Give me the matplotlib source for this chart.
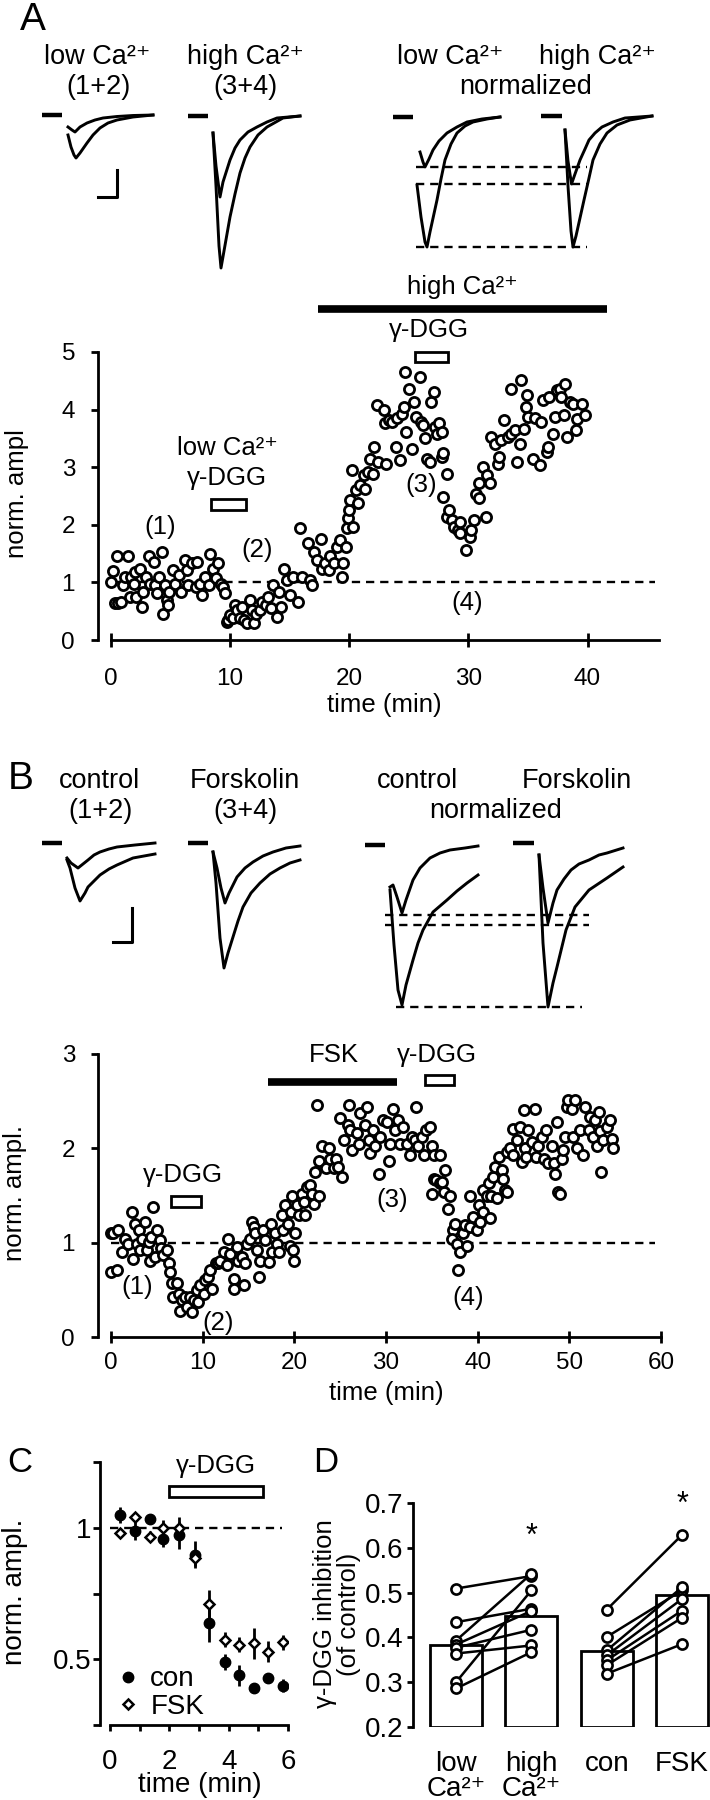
import matplotlib
matplotlib.use("Agg")
import matplotlib.pyplot as plt
from matplotlib.lines import Line2D
import numpy as np

plt.rcParams['font.family'] = ['Liberation Sans', 'DejaVu Sans']

# ---------------- data ----------------
# panel A time course (min, normalized amplitude)
a_time = [0.0, 0.2, 0.3, 0.5, 0.6, 0.8, 1.0, 1.2, 1.4, 1.6,
          1.7, 1.9, 2.0, 2.1, 2.4, 2.6, 2.7, 2.9, 3.2, 3.3,
          3.6, 3.7, 3.9, 4.0, 4.3, 4.4, 4.5, 4.7, 4.8, 4.9,
          5.2, 5.4, 5.7, 5.9, 6.2, 6.4, 6.5, 6.8, 7.1, 7.2,
          7.5, 7.6, 7.9, 8.2, 8.3, 8.6, 8.8, 9.0, 9.2, 9.4,
          9.6, 9.7, 9.8, 10.0, 10.2, 10.4, 10.6, 10.8, 11.0, 11.2,
          11.4, 11.7, 11.8, 12.0, 12.2, 12.5, 12.7, 13.0, 13.2, 13.4,
          13.6, 13.9, 14.1, 14.3, 14.5, 14.8, 15.0, 15.3, 15.7, 15.9,
          16.0, 16.5, 16.7, 16.9, 17.0, 17.3, 17.6, 17.7, 18.0, 18.3,
          18.4, 18.7, 19.0, 19.2, 19.4, 19.5, 19.7, 19.8, 19.9, 20.0,
          20.1, 20.2,
          20.3, 20.6, 20.7, 20.9, 21.2, 21.3, 21.6, 21.7, 22.0, 22.1,
          22.3, 22.4, 22.9, 23.0, 23.1, 23.3, 23.6, 23.9, 24.0, 24.3,
          24.4, 24.6, 24.7, 24.8, 25.0, 25.3, 25.4, 25.6, 25.9, 26.0,
          26.2, 26.4, 26.5, 26.8, 26.9, 27.1, 27.2, 27.4, 27.5, 27.8,
          27.8, 27.9, 27.9, 28.2, 28.2, 28.4, 28.6, 28.8, 29.1, 29.3,
          29.3, 29.8, 30.1, 30.2, 30.5, 30.6, 30.9, 30.9, 31.2, 31.5,
          31.6, 31.8, 31.9, 32.2, 32.5, 32.6, 32.7, 33.0, 33.3, 33.6,
          33.6, 33.9, 34.1, 34.3, 34.4, 34.7, 34.8, 34.9, 35.0, 35.4,
          35.6, 36.0, 36.1, 36.3, 36.6, 36.7, 36.8, 37.1, 37.3, 37.4,
          37.7, 37.8, 38.0, 38.1, 38.3, 38.5, 38.8, 39.0, 39.1, 39.5,
          39.8]
a_ampl = [1.01, 1.20, 0.64, 1.45, 0.64, 0.66, 0.95, 1.10, 1.45, 0.75,
          1.10, 0.98, 1.18, 0.75, 1.24, 0.58, 0.84, 1.10, 1.45, 0.98,
          1.36, 0.95, 0.81, 1.10, 1.53, 0.46, 0.95, 0.69, 0.61, 0.84,
          1.21, 0.98, 1.13, 0.84, 1.39, 1.21, 0.95, 1.33, 0.92, 1.36,
          0.98, 0.78, 1.10, 0.95, 1.50, 1.24, 1.07, 1.33, 0.98, 0.92,
          0.81, 0.32, 0.35, 0.43, 0.38, 0.61, 0.52, 0.38, 0.58, 0.35,
          0.29, 0.69, 0.52, 0.29, 0.46, 0.52, 0.66, 0.61, 0.75, 0.55,
          0.95, 0.40, 0.84, 0.58, 1.24, 1.04, 0.78, 1.10, 0.66, 1.94,
          1.10, 1.68, 1.04, 0.95, 1.53, 1.39, 1.76, 1.24, 1.33, 1.21,
          1.45, 1.33, 1.62, 1.73, 1.10, 1.33, 1.62, 1.94, 2.11, 2.25,
          2.43, 2.95,
          1.97, 2.60, 2.37, 2.69, 2.86, 2.63, 2.92, 3.15, 2.89, 3.35,
          4.08, 3.09, 3.99, 3.76, 3.06, 3.82, 3.79, 3.35, 3.85, 3.12,
          3.93, 4.05, 4.65, 3.61, 4.36, 3.32, 4.13, 3.87, 4.57, 3.79,
          3.73, 3.50, 3.15, 3.09, 4.13, 4.31, 3.70, 3.58, 3.76, 3.61,
          3.18, 3.24, 2.49, 2.89, 2.14, 2.25, 2.08, 1.97, 1.91, 2.05,
          1.85, 1.56, 1.79, 1.91, 2.08, 2.54, 2.72, 2.46, 3.01, 2.14,
          2.86, 2.72, 3.53, 3.41, 3.06, 3.18, 3.47, 3.82, 3.53, 3.58,
          4.36, 3.64, 3.09, 3.41, 4.51, 3.67, 4.05, 4.25, 3.87, 3.15,
          3.85, 3.03, 3.79, 4.16, 3.27, 3.35, 4.22, 3.58, 3.87, 4.34,
          4.36, 4.22, 3.90, 4.45, 3.53, 4.13, 4.10, 3.64, 3.84, 4.10,
          3.90]

# panel B time course
b_time = [0.0, 0.25, 0.0, 0.6, 0.8, 1.2, 1.5, 1.9, 2.3, 2.4,
          2.6, 2.8, 3.0, 3.2, 3.4, 3.7, 3.9, 4.1, 4.2, 4.4,
          4.6, 4.8, 5.0, 5.3, 5.4, 5.7, 6.1, 6.3, 6.4, 6.6,
          6.8, 7.2, 7.4, 7.5, 7.7, 8.1, 8.3, 8.6, 8.8, 9.0,
          9.4, 9.5, 9.7, 10.1, 10.3, 10.6, 10.8, 11.0, 11.4, 11.7,
          11.9, 12.3, 12.6, 12.8, 13.0, 13.4, 13.4, 13.7, 13.9, 14.3,
          14.5, 14.6, 14.8, 15.2, 15.4, 15.6, 15.7, 15.9, 16.1, 16.3,
          16.6, 16.8, 17.2, 17.4, 17.6, 17.9, 18.1, 18.3, 18.7, 18.8,
          19.0, 19.3, 19.5, 19.6, 19.7, 19.9, 20.0, 20.1, 20.3, 20.5,
          20.8, 21.0, 21.2, 21.4, 21.7, 21.9, 22.1, 22.3, 22.5, 22.7,
          22.7, 23.0, 23.4, 23.8, 23.9, 24.3, 24.5, 24.8, 25.2, 25.0,
          25.4, 25.8, 26.0, 26.1, 26.3,
          26.8, 27.0, 27.2, 27.7, 27.9, 28.1, 28.3, 28.6, 28.8, 29.2,
          29.3, 29.7, 30.1, 30.3, 30.4, 30.8, 31.0, 31.3, 31.5, 31.9,
          32.3, 32.6, 32.8, 33.2, 33.3, 33.5, 33.9, 34.1, 34.4, 34.8,
          35.0, 35.2, 35.2, 35.5, 35.9, 35.9, 36.3, 36.4, 37.0, 36.8,
          35.0, 36.1, 37.3, 37.2, 37.5, 37.7, 37.9, 38.1, 38.4, 38.6,
          38.8, 39.2, 39.2, 39.5, 39.9, 40.1, 40.3, 40.6, 40.6, 41.0,
          41.2, 41.3, 41.5, 41.7, 41.9, 42.1, 42.3, 42.6, 42.8, 43.0,
          43.2, 43.2, 43.5, 43.9, 43.9, 44.3, 44.6, 44.8, 45.0, 45.2,
          45.3, 45.5, 45.9, 46.3, 46.4, 46.6, 47.0, 47.2, 47.5, 47.7,
          48.1, 48.3, 48.4, 48.6, 48.8, 49.0, 49.2, 49.3, 49.5, 49.7,
          49.9, 50.3, 50.4, 50.6, 50.8, 51.2, 51.5, 51.7, 52.1, 52.3,
          52.6, 52.8, 53.0, 53.2, 53.3, 53.5, 53.7, 54.1, 54.4, 54.6,
          54.8]
b_ampl = [1.10, 1.10, 0.69, 0.71, 1.13, 0.90, 1.04, 0.99, 1.33, 0.83,
          1.20, 0.99, 1.13, 0.92, 1.04, 1.22, 0.92, 1.01, 0.81, 1.06,
          1.38, 0.85, 1.13, 1.03, 0.94, 0.87, 0.92, 0.78, 0.69, 0.57,
          0.42, 0.57, 0.46, 0.28, 0.39, 0.42, 0.32, 0.42, 0.27, 0.39,
          0.50, 0.37, 0.55, 0.46, 0.60, 0.64, 0.71, 0.51, 0.78, 0.78,
          0.81, 0.90, 0.76, 1.04, 0.88, 0.62, 0.51, 0.95, 0.81, 0.85,
          0.55, 0.78, 0.99, 1.04, 1.22, 1.17, 1.10, 0.92, 0.64, 0.81,
          1.13, 1.03, 0.80, 1.20, 0.90, 1.10, 0.99, 0.90, 1.29, 1.13,
          1.40, 1.20, 0.96, 1.33, 1.49, 0.92, 0.81, 1.10, 1.40, 1.29,
          1.52, 1.43, 1.29, 1.59, 1.61, 1.52, 1.41, 1.75, 2.46, 1.49,
          1.87, 2.02, 1.79, 2.00, 1.89, 1.79, 1.89, 1.80, 1.70, 2.32,
          2.09, 2.25, 2.46, 2.19, 1.98,
          2.16, 2.05, 2.37, 2.25, 2.44, 2.09, 1.95, 2.19, 2.03, 1.73,
          2.12, 2.30, 2.28, 1.87, 2.05, 2.42, 2.19, 2.30, 2.05, 2.23,
          2.05, 1.93, 2.12, 2.09, 2.44, 2.02, 2.12, 1.93, 2.19, 2.23,
          2.03, 1.93, 1.68, 1.66, 1.93, 1.63, 1.54, 1.77, 1.49, 1.36,
          1.52, 1.64, 1.13, 1.04, 1.20, 0.99, 0.71, 0.90, 1.10, 1.19,
          0.96, 1.49, 1.17, 1.27, 1.13, 1.40, 1.22, 1.33, 1.56, 1.49,
          1.63, 1.26, 1.49, 1.70, 1.80, 1.47, 1.91, 1.77, 1.68, 1.56,
          1.54, 1.96, 2.00, 1.93, 2.21, 2.09, 2.23, 1.86, 2.41, 2.00,
          1.91, 2.19, 2.07, 2.42, 1.91, 2.02, 2.12, 1.89, 2.19, 1.84,
          2.02, 1.84, 1.73, 2.28, 1.54, 1.52, 1.89, 1.98, 2.12, 2.44,
          2.51, 2.42, 2.12, 2.51, 2.00, 2.19, 1.93, 2.44, 2.19, 2.33,
          2.12, 2.30, 2.03, 2.39, 2.18, 1.75, 2.09, 2.23, 2.30, 2.10,
          2.00]

# application periods (min)
a_highca = [17.4, 41.6]
a_dgg_low = [8.4, 11.3]
a_dgg_high = [25.5, 28.3]
b_fsk = [17.1, 31.2]
b_dgg_con = [6.5, 9.8]
b_dgg_fsk = [34.2, 37.4]

# panel C averaged time course
c_time = [0.34, 0.84, 1.35, 1.79, 2.33, 2.86, 3.34, 3.87, 4.35, 4.84, 5.33, 5.83]
c_con = [1.047, 0.987, 1.034, 0.958, 0.971, 0.898, 0.636, 0.49, 0.44, 0.39, 0.43, 0.40]
c_con_err = [0.03, 0.035, 0.01, 0.03, 0.05, 0.05, 0.07, 0.03, 0.04, 0.01, 0.015, 0.025]
c_fsk = [0.98, 1.04, 0.966, 1.0, 1.0, 0.885, 0.71, 0.575, 0.556, 0.56, 0.528, 0.564]
c_fsk_err = [0.02, 0.02, 0.02, 0.03, 0.04, 0.03, 0.055, 0.03, 0.03, 0.06, 0.04, 0.03]
c_dgg = [2.0, 5.15]

# panel D paired inhibition values
d_low = [0.509, 0.434, 0.393, 0.384, 0.377, 0.364, 0.300, 0.286]
d_high = [0.537, 0.464, 0.542, 0.459, 0.417, 0.382, 0.505, 0.367]
d_con = [0.462, 0.401, 0.371, 0.360, 0.349, 0.338, 0.319]
d_fsk = [0.629, 0.505, 0.512, 0.486, 0.460, 0.444, 0.385]
d_means = [0.382, 0.447, 0.370, 0.494]
d_labels = ['low\nCa²⁺', 'high\nCa²⁺', 'con', 'FSK']
d_star = [0.624, 0.695]

# example EPSC traces (time after stimulus, inward deflection)
trA_low_t = [[0, 4, 7, 12, 19, 27, 35, 49, 65, 85],
             [0, 3, 6, 8, 12, 19, 25, 32, 40, 49, 65, 85]]
trA_low_d = [[12, 15, 17, 12, 8, 5, 3, 1.5, 0.5, 0],
             [20, 32, 40, 43, 38, 28, 20, 13, 8, 5, 2, 0]]
trA_high_t = [[0, 3, 7, 10, 17, 22, 27, 35, 44, 54, 64, 87],
              [0, 3, 6, 8, 11, 17, 22, 27, 32, 37, 45, 54, 70, 87]]
trA_high_d = [[17, 50, 81, 66, 44, 32, 24, 16, 11, 6, 2, 0],
              [17, 70, 130, 152, 135, 101, 78, 57, 42, 31, 19, 11, 2, 0]]
trA_nlow_t = [[3, 6, 8, 12, 16, 22, 30, 40, 50, 65, 83],
              [0, 4, 8, 10, 13, 20, 24, 28, 34, 40, 48, 56, 70, 83]]
trA_nlow_d = [[35, 45, 50, 42, 33, 24, 16, 10, 5, 2, 0],
              [68, 100, 125, 130, 115, 83, 62, 43, 27, 16, 9, 5, 2, 0]]
trA_nhigh_t = [[0, 3, 6.5, 10, 15, 20, 24, 30, 37, 48, 60, 87],
               [0, 3, 6, 8, 11, 19, 24, 28, 35, 42, 52, 65, 87]]
trA_nhigh_d = [[14, 45, 68, 58, 44, 33, 24, 17, 11, 6, 2, 0],
               [14, 70, 115, 131, 120, 84, 62, 44, 28, 17, 9, 4, 0]]
trA_norm_levels = [50, 67, 130]

trB_con_t = [[0, 4, 11, 16, 21, 27, 33, 42, 50, 68, 88],
             [0, 3, 8, 13, 18, 21, 27, 33, 42, 50, 66, 88]]
trB_con_d = [[15, 20, 25, 21, 17, 12, 9, 6, 4, 2, 0],
             [17, 25, 45, 58, 50, 44, 38, 32, 26, 22, 15, 11]]
trB_fsk_t = [[0, 4, 8, 12, 16, 24, 32, 40, 50, 60, 73, 87],
             [0, 3, 7, 11, 15, 20, 25, 30, 38, 47, 57, 67, 77, 87]]
trB_fsk_d = [[9, 25, 45, 60, 50, 34, 25, 19, 13, 9, 5, 3],
             [9, 40, 95, 125, 110, 94, 78, 64, 50, 40, 31, 25, 20, 17]]
trB_ncon_t = [[0, 3, 7, 12, 16, 23, 30, 40, 50, 60, 75, 88],
              [0, 4, 8, 12, 16, 23, 28, 33, 43, 57, 67, 77, 88]]
trB_ncon_d = [[42, 40, 52, 68, 55, 35, 23, 13, 8, 5, 3, 1],
              [45, 100, 145, 160, 140, 115, 98, 85, 67, 55, 46, 38, 30]]
trB_nfsk_t = [[0, 4, 9, 14, 18, 25, 32, 40, 50, 60, 68, 84],
              [0, 4, 9, 14, 18, 27, 36, 50, 68, 84]]
trB_nfsk_d = [[12, 45, 80, 60, 47, 36, 27, 21, 17, 12, 10, 5],
              [12, 100, 164, 140, 124, 87, 64, 47, 35, 24]]
trB_norm_levels = [70, 80, 162]

# ---------------- figure ----------------
W, H = 710, 1800
fig = plt.figure(figsize=(W / 100, H / 100), dpi=100)


def px_axes(left, top, right, bottom):
    return fig.add_axes([left / W, 1 - bottom / H, (right - left) / W, (bottom - top) / H])


ov = px_axes(0, 0, W, H)
ov.set_xlim(0, W)
ov.set_ylim(H, 0)
ov.axis('off')

LW = 2.1
FS = 18.5
DASH = (0, (3.5, 2.5))


def sweeps(ts, ds, x0, y0, mark):
    ov.plot(mark, [y0, y0], 'k', lw=3.2, solid_capstyle='butt')
    for t, d in zip(ts, ds):
        ov.plot(x0 + np.asarray(t), y0 + np.asarray(d), 'k', lw=LW, solid_joinstyle='round')


def dashes(levels, y0, x0, x1):
    for lv in levels:
        ov.plot([x0, x1], [y0 + lv, y0 + lv], 'k', lw=1.7, ls=DASH)


# panel A traces
sweeps(trA_low_t, trA_low_d, 68, 115, [42, 62])
sweeps(trA_high_t, trA_high_d, 213, 116, [188, 208])
sweeps(trA_nlow_t, trA_nlow_d, 417, 117, [393, 413])
sweeps(trA_nhigh_t, trA_nhigh_d, 565, 116, [541, 562])
dashes(trA_norm_levels, 117, 416, 587)
ov.plot([98, 117, 117], [197, 197, 170], 'k', lw=2.2)

# panel B traces
sweeps(trB_con_t, trB_con_d, 67, 843, [42, 62])
sweeps(trB_fsk_t, trB_fsk_d, 213, 843, [188, 208])
sweeps(trB_ncon_t, trB_ncon_d, 390, 845, [365, 385])
sweeps(trB_nfsk_t, trB_nfsk_d, 539, 843, [513, 534])
dashes(trB_norm_levels[:2], 845, 385, 589)
dashes(trB_norm_levels[2:], 845, 396, 582)
ov.plot([113, 132, 132], [942, 942, 908], 'k', lw=2.2)

HF = 19.5
for txt, x, y in [('low Ca²⁺', 97, 57), ('(1+2)', 98, 87), ('high Ca²⁺', 245, 57),
                  ('(3+4)', 245, 87), ('low Ca²⁺', 450, 57), ('high Ca²⁺', 597, 57),
                  ('normalized', 526, 87),
                  ('control', 100, 781), ('(1+2)', 100, 811), ('Forskolin', 245, 781),
                  ('(3+4)', 245, 811), ('control', 417, 781), ('Forskolin', 577, 781),
                  ('normalized', 496, 811)]:
    ov.text(x, y, txt, fontsize=HF, ha='center', va='center')

for txt, x, y, fs in [('A', 33, 20, 28), ('B', 21, 779, 28), ('C', 20, 1463, 25), ('D', 326, 1462, 25)]:
    ov.text(x, y, txt, fontsize=fs, ha='center', va='center')


def style(ax):
    for s in ['top', 'right']:
        ax.spines[s].set_visible(False)
    for s in ['left', 'bottom']:
        ax.spines[s].set_linewidth(2)


def box(ax, span, y0, y1):
    ax.add_patch(plt.Rectangle((span[0], y0), span[1] - span[0], y1 - y0, fill=False,
                               lw=2, ec='k', clip_on=False))


# ---------------- panel A ----------------
axA = px_axes(98, 352, 659, 640)
style(axA)
axA.set_xlim(-1.09, 46)
axA.set_ylim(0, 5)
axA.spines['bottom'].set_bounds(0, 46)
axA.plot([0, 45.7], [1, 1], 'k', lw=1.7, ls=DASH, zorder=1)
axA.plot(a_time, a_ampl, 'o', ms=7.3, mfc='white', mec='k', mew=2.0, clip_on=False, zorder=3)
axA.set_xticks([0, 10, 20, 30, 40])
axA.set_yticks([0, 1, 2, 3, 4, 5])
axA.tick_params(axis='y', direction='out', length=5, width=2, labelsize=17.5, pad=11.5)
axA.tick_params(axis='x', direction='inout', length=10, width=2, labelsize=17.5, pad=15)
axA.plot(a_highca, [5.75, 5.75], 'k', lw=5.5, solid_capstyle='butt', clip_on=False)
box(axA, a_dgg_high, 4.83, 5.0)
box(axA, a_dgg_low, 2.26, 2.45)
for txt, x, y in [('high Ca²⁺', 29.5, 6.13), ('γ-DGG', 26.7, 5.38), ('low Ca²⁺', 9.75, 3.33),
                  ('γ-DGG', 9.7, 2.81), ('(1)', 4.1, 1.97), ('(2)', 12.3, 1.56),
                  ('(3)', 26.0, 2.69), ('(4)', 29.9, 0.64)]:
    axA.text(x, y, txt, fontsize=FS, ha='center', va='center')
ov.text(17, 494, 'norm. ampl', fontsize=FS, rotation=90, ha='center', va='center')
ov.text(384, 705, 'time (min)', fontsize=FS, ha='center', va='center')

# ---------------- panel B ----------------
axB = px_axes(98, 1054, 661, 1337)
style(axB)
axB.set_xlim(-1.42, 60)
axB.set_ylim(0, 3)
axB.spines['bottom'].set_bounds(0, 60)
axB.plot([0, 59.3], [1, 1], 'k', lw=1.7, ls=DASH, zorder=1)
axB.plot(b_time, b_ampl, 'o', ms=7.3, mfc='white', mec='k', mew=2.0, clip_on=False, zorder=3)
axB.set_xticks([0, 10, 20, 30, 40, 50, 60])
axB.set_yticks([0, 1, 2, 3])
axB.tick_params(axis='y', direction='out', length=5, width=2, labelsize=17.5, pad=11.5)
axB.tick_params(axis='x', direction='inout', length=9, width=2, labelsize=17.5, pad=6.5)
axB.plot(b_fsk, [2.70, 2.70], 'k', lw=5.5, solid_capstyle='butt', clip_on=False)
box(axB, b_dgg_fsk, 2.67, 2.78)
box(axB, b_dgg_con, 1.38, 1.49)
for txt, x, y in [('FSK', 24.3, 2.99), ('γ-DGG', 35.6, 2.99), ('γ-DGG', 7.8, 1.72),
                  ('(1)', 2.9, 0.53), ('(2)', 11.7, 0.15), ('(3)', 30.7, 1.45), ('(4)', 39.0, 0.41)]:
    axB.text(x, y, txt, fontsize=FS, ha='center', va='center')
ov.text(15, 1193, 'norm. ampl.', fontsize=FS, rotation=90, ha='center', va='center')
ov.text(386, 1393, 'time (min)', fontsize=FS, ha='center', va='center')

# ---------------- panel C ----------------
axC = px_axes(100, 1462, 288, 1725)
style(axC)
axC.set_xlim(-0.337, 6)
axC.set_ylim(0.25, 1.25)
axC.spines['bottom'].set_bounds(0, 6)
axC.plot([0, 5.8], [1, 1], 'k', lw=1.7, ls=DASH, zorder=1)
axC.errorbar(c_time, c_con, yerr=c_con_err, fmt='o', color='k', ms=7.5, elinewidth=2,
             capsize=0, zorder=3)
axC.errorbar(c_time, c_fsk, yerr=c_fsk_err, fmt='D', color='k', mfc='white', mec='k',
             ms=5.5, mew=1.8, elinewidth=2, capsize=0, zorder=4)
axC.set_xticks([0, 1, 2, 3, 4, 5, 6])
axC.set_xticklabels(['0', '', '2', '', '4', '', '6'])
axC.set_yticks([0.25, 0.5, 0.75, 1.0, 1.25])
axC.set_yticklabels(['', '0.5', '', '1', ''])
axC.tick_params(axis='y', direction='out', length=5, width=2, labelsize=20, pad=1)
axC.tick_params(axis='x', direction='out', length=4, width=2, labelsize=20, pad=13)
box(axC, c_dgg, 1.118, 1.16)
axC.text(sum(c_dgg) / 2, 1.233, 'γ-DGG', fontsize=FS, ha='center', va='center')
handles = [Line2D([], [], marker='o', ls='none', color='k', ms=7.5),
           Line2D([], [], marker='D', ls='none', color='k', mfc='white', ms=5.5, mew=1.8)]
axC.legend(handles, ['con', 'FSK'], loc='lower left', bbox_to_anchor=(0.09, 0.02),
           frameon=False, fontsize=20, handlelength=0.8, handletextpad=0.4,
           labelspacing=0.05, borderpad=0, borderaxespad=0)
ov.text(15, 1592, 'norm. ampl.', fontsize=20, rotation=90, ha='center', va='center')
ov.text(200, 1785, 'time (min)', fontsize=20, ha='center', va='center')

# ---------------- panel D ----------------
axD = px_axes(413, 1503, 710, 1727)
style(axD)
axD.spines['bottom'].set_visible(False)
axD.set_xlim(-0.571, 3.37)
axD.set_ylim(0.2, 0.7)
pos = np.arange(len(d_means))
axD.bar(pos, np.asarray(d_means) - 0.2, bottom=0.2, width=0.69, color='white',
        edgecolor='k', lw=2, zorder=1)
for lo, hi in zip(d_low, d_high):
    axD.plot([0, 1], [lo, hi], 'k-o', lw=1.8, ms=7.3, mfc='white', mec='k', mew=1.9, zorder=3)
for lo, hi in zip(d_con, d_fsk):
    axD.plot([2, 3], [lo, hi], 'k-o', lw=1.8, ms=7.3, mfc='white', mec='k', mew=1.9,
             zorder=3, clip_on=False)
axD.set_yticks([0.2, 0.3, 0.4, 0.5, 0.6, 0.7])
axD.set_yticklabels(['0.2', '0.3', '0.4', '0.5', '0.6', '0.7'])
axD.set_xticks(pos)
axD.set_xticklabels(d_labels, linespacing=0.95)
axD.tick_params(axis='y', direction='out', length=4.5, width=2, labelsize=20, pad=2.5)
axD.tick_params(axis='x', length=0, labelsize=20, pad=17)
for p, s in zip([1, 3], d_star):
    axD.text(p, s, '*', fontsize=22, ha='center', va='center', clip_on=False)
ov.text(325, 1614, 'γ-DGG inhibition', fontsize=FS, rotation=90, ha='center', va='center')
ov.text(349, 1614, '(of control)', fontsize=FS, rotation=90, ha='center', va='center')

fig.savefig('out.png', dpi=100)
